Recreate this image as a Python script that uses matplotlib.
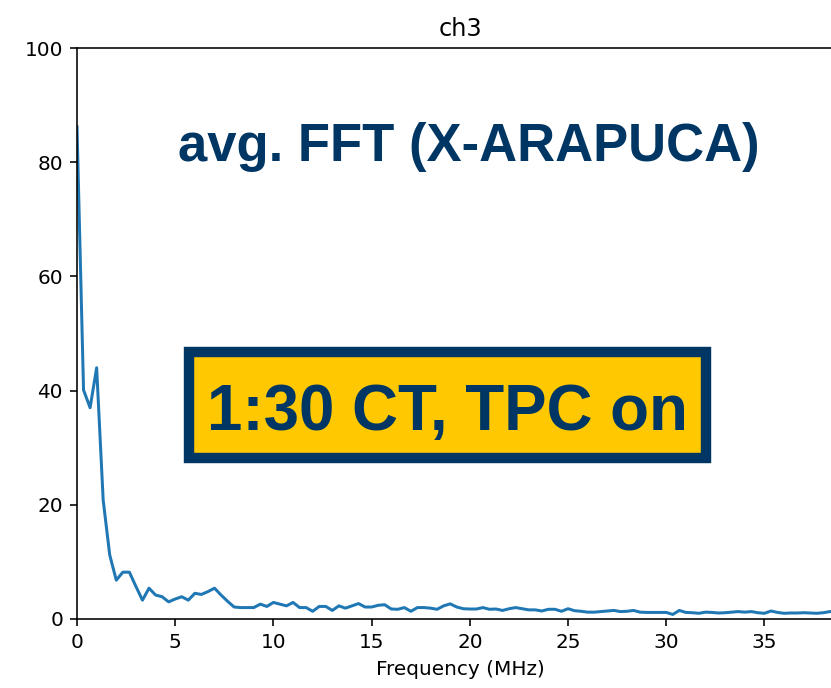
import numpy as np
import matplotlib
matplotlib.use("Agg")
import matplotlib.pyplot as plt
from matplotlib.patches import Rectangle

# averaged FFT magnitude for channel 3, one value per frequency bin
FREQ_STEP_MHZ = 1.0 / 3.0
AMPLITUDE = [
    86.2, 40.1, 37.0, 44.0, 20.8, 11.2, 6.8, 8.2, 8.2, 5.7,
    3.3, 5.4, 4.2, 3.9, 3.0, 3.5, 3.9, 3.3, 4.5, 4.3,
    4.8, 5.4, 4.2, 3.1, 2.1, 2.0, 2.0, 2.0, 2.6, 2.2,
    2.9, 2.6, 2.3, 2.9, 2.0, 2.0, 1.35, 2.2, 2.2, 1.5,
    2.3, 1.9, 2.3, 2.7, 2.1, 2.1, 2.4, 2.5, 1.75, 1.7,
    2.0, 1.35, 2.0, 2.0, 1.9, 1.7, 2.3, 2.65, 2.1, 1.8,
    1.75, 1.75, 2.0, 1.7, 1.75, 1.5, 1.8, 2.0, 1.8, 1.6,
    1.6, 1.4, 1.7, 1.7, 1.35, 1.8, 1.45, 1.35, 1.2, 1.2,
    1.3, 1.4, 1.5, 1.3, 1.35, 1.5, 1.2, 1.15, 1.15, 1.15,
    1.15, 0.8, 1.5, 1.15, 1.1, 1.0, 1.2, 1.15, 1.05, 1.1,
    1.2, 1.3, 1.2, 1.3, 1.1, 1.0, 1.4, 1.15, 1.0, 1.05,
    1.05, 1.1, 1.05, 1.0, 1.1, 1.3, 1.3, 1.2,
]
Y_TICKS = [0, 20, 40, 60, 80, 100]
X_TICKS = [0, 5, 10, 15, 20, 25, 30, 35]

CHANNEL = "ch3"
HEADLINE = "avg. FFT (X-ARAPUCA)"
RUN_TAG = "1:30 CT, TPC on"

NAVY = "#003663"
GOLD = "#FFC800"

W, H, DPI = 831, 688, 144

freqs = np.arange(len(AMPLITUDE)) * FREQ_STEP_MHZ

fig = plt.figure(figsize=(W / DPI, H / DPI), dpi=DPI)
# the axes runs a little past the right edge of the canvas
ax = fig.add_axes([77 / W, 1 - 619 / H, (843 - 77) / W, (619 - 48) / H])

ax.plot(freqs, AMPLITUDE, color="#1f77b4", linewidth=1.5)
ax.set_xlim(0, 39)
ax.set_ylim(0, 100)
ax.set_xticks(X_TICKS)
ax.set_yticks(Y_TICKS)
ax.set_xlabel("Frequency (MHz)")
ax.set_title(CHANNEL)

# slide annotations
fig.text(469 / W, 1 - 161 / H, HEADLINE, ha="center", va="baseline",
         fontsize=26.3, fontweight="bold", color=NAVY,
         family=["Liberation Sans", "DejaVu Sans"])

box = Rectangle((189 / W, 1 - 458 / H), (706 - 189) / W, (458 - 352) / H,
                transform=fig.transFigure, facecolor=GOLD, edgecolor=NAVY,
                linewidth=5.2, zorder=5)
fig.add_artist(box)
fig.text(448 / W, 1 - 430 / H, RUN_TAG, ha="center", va="baseline",
         fontsize=31.8, fontweight="bold", color=NAVY, zorder=6,
         family=["Liberation Sans", "DejaVu Sans"])

fig.savefig("out.png", dpi=DPI)
